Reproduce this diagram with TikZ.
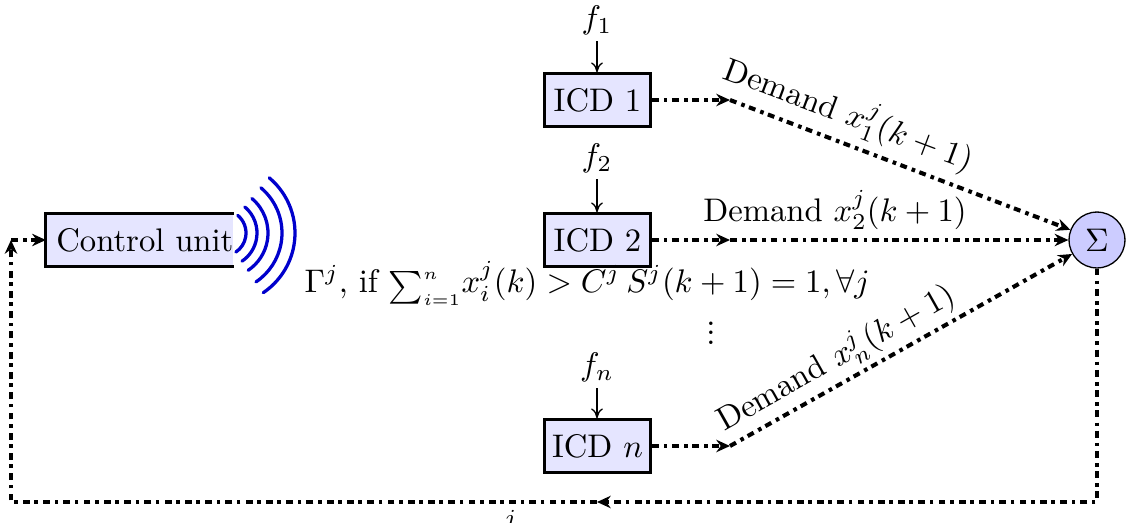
\documentclass[tikz,border=0pt]{standalone}
\usetikzlibrary{arrows.meta}
\begin{document}
\begin{tikzpicture}[x=0.306pt,y=-0.306pt,
  blockbox/.style={draw=black,line width=0.95pt,fill=blue!10,inner sep=0pt,minimum width=32.2pt,minimum height=16pt},
  feed/.style={line width=1.25pt,dash pattern=on 2.1pt off 1.6pt on 1.1pt off 1.4pt,-{Stealth[length=4.2pt,width=3.8pt]}},
  thinarrow/.style={-{To[length=3pt,width=3.6pt]}},
  flabel/.style={inner sep=1.8pt},
  wave/.style={draw=blue!80!black,line width=1pt,line cap=round}]
\useasboundingbox (0,0) rectangle (1126,523);
\node[fill=blue!10,inner sep=0pt,minimum width=56.2pt,minimum height=16pt] (cu) at (140,240) {\hspace*{3pt}Control unit};
\draw[line width=0.95pt] (cu.north east) -- (cu.north west) -- (cu.south west) -- (cu.south east);
\coordinate (wc) at (223,233);
\foreach \r in {23,34,45,59,72}{
  \draw[wave] ([shift={(50:{\r*0.306pt})}]wc) arc[start angle=50,end angle=-56,radius={\r*0.306pt}];
}
\node[blockbox] (i1) at (597.5,100) {ICD 1};
\node[blockbox] (i2) at (597.5,240) {ICD 2};
\node[blockbox] (in) at (597.5,446) {ICD $n$};
\node[circle,draw=black,fill=blue!20,inner sep=0pt,minimum size=17.1pt] (s) at (1097,240) {$\Sigma$};
\node[flabel] (f1) at (597,20) {$f_1$};
\node[flabel] (f2) at (597,158) {$f_2$};
\node[flabel] (fn) at (597,367) {$f_n$};
\draw[thinarrow] (f1) -- (i1.north -| f1);
\draw[thinarrow] (f2) -- (i2.north -| f2);
\draw[thinarrow] (fn) -- (in.north -| fn);
\coordinate (d1) at (730,100);
\coordinate (d2) at (730,240);
\coordinate (dn) at (730,446);
\draw[feed] (i1) -- (d1);
\draw[feed] (i2) -- (d2);
\draw[feed] (in) -- (dn);
\draw[feed] (d1) -- (s);
\draw[feed] (d2) -- (s);
\draw[feed] (dn) -- (s);
\coordinate (bm) at (597,502);
\coordinate (bl) at (11,502);
\coordinate (ul) at (11,240);
\coordinate (br) at (1097,502);
\draw[feed] (s.south) -- (br) -- (bm);
\draw[feed] (bm) -- (bl) -- (ul);
\draw[feed] (ul) -- (cu.west);
\node[rotate=-20.6] at (849,114) {Demand $x_1^j(k+1)$};
\node at (835,210) {Demand $x_2^j(k+1)$};
\node[rotate=29.4] at (836,358) {Demand $x_n^j(k+1)$};
\node[anchor=base west,inner sep=0pt] at (304,292) {$\Gamma^j$, if ${\scriptscriptstyle\sum_{i=1}^n}x_i^j(k) > C^j$};
\node[anchor=base,inner sep=0pt] at (748,292) {$S^j(k+1)=1,\forall j$};
\node[inner sep=0pt] at (711,333) {\vbox{\baselineskip2.9pt\lineskiplimit0pt\hbox{.}\hbox{.}\hbox{.}}};
\node[inner sep=0pt,anchor=north] at (510,510) {$\scriptstyle j$};
\end{tikzpicture}
\end{document}
